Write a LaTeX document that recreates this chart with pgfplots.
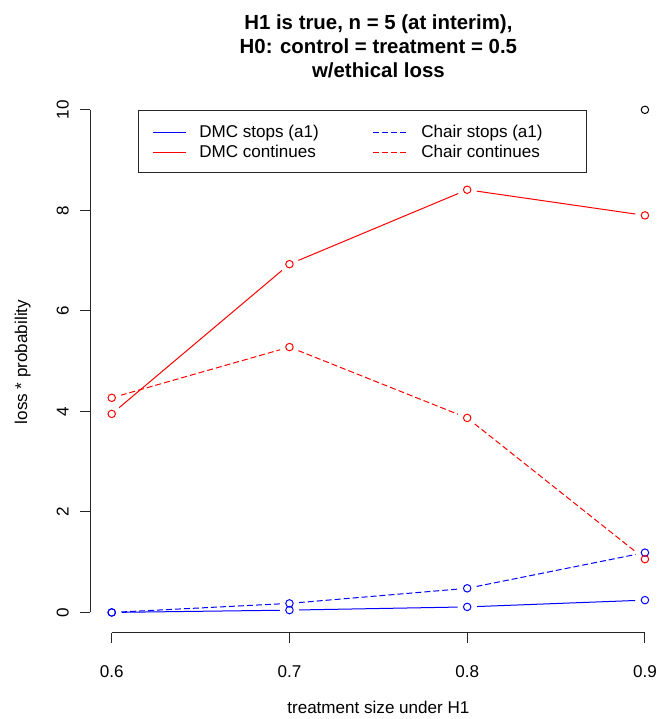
\documentclass[border=0pt]{standalone}
\usepackage{pgfplots}
\usepackage{pgfplotstable}
\pgfplotsset{compat=1.18}
\usepackage{fontspec}
\setmainfont{Liberation Sans}

% loss * probability per treatment size
\pgfplotstableread{
x    dmcstop dmccont chairstop chaircont
0.6  0.000   3.95    0.00      4.27
0.7  0.046   6.93    0.18      5.28
0.8  0.110   8.41    0.48      3.87
0.9  0.245   7.90    1.19      1.06
}\losstable

% one segment of a type="b" line, with a gap at both ends
\newcommand\seg[3]{%
  \addplot[#1, line width=0.75pt, shorten <=7pt, shorten >=7pt, forget plot,
    restrict x to domain=#2] table[x=x, y=#3] {\losstable};}
\newcommand\series[2]{%
  \seg{#1}{0.59:0.71}{#2}\seg{#1}{0.69:0.81}{#2}\seg{#1}{0.79:0.91}{#2}}
\newcommand\points[2]{%
  \addplot[only marks, mark=o, mark size=2.8pt, #1, mark options={solid, line width=0.75pt}, forget plot]
    table[x=x, y=#2] {\losstable};}

\begin{document}
\begin{tikzpicture}[font=\fontsize{12.8}{15.4}\selectfont]
\useasboundingbox (0,0) rectangle (492.75pt,-539.25pt);
\begin{axis}[
  at={(67.8pt,-474.4pt)}, anchor=south west,
  scale only axis, width=431.9pt, height=407.1pt,
  xmin=0.588, xmax=0.912, ymin=-0.4, ymax=10.4,
  separate axis lines,
  axis x line*=bottom, axis y line*=left,
  x axis line style={-, black!85, line width=0.75pt, shorten <=16pt, shorten >=16pt},
  y axis line style={-, black!85, line width=0.75pt, shorten <=15.1pt, shorten >=15.1pt},
  xtick={0.6,0.7,0.8,0.9}, xticklabels={0.6,0.7,0.8,0.9},
  ytick={0,2,4,6,8,10}, yticklabels={0,2,4,6,8,10},
  tick align=outside, major tick length=7.5pt,
  tick style={black!85, line width=0.75pt},
  xticklabel style={anchor=base}, xticklabel shift=26.5pt,
  yticklabel style={rotate=90, anchor=base}, yticklabel shift=8.9pt,
]
% lines
\series{blue}{dmcstop}
\series{red}{dmccont}
\series{blue, dash pattern=on 4.5pt off 2.25pt}{chairstop}
\series{red, dash pattern=on 4.5pt off 2.25pt}{chaircont}
% clear round each point, as with type = "b"
\pgfplotsinvokeforeach{dmcstop,dmccont,chairstop,chaircont}{
  \addplot[only marks, color=white, mark=*, mark size=7pt, mark options={draw=white, fill=white}, forget plot]
    table[x=x, y=#1] {\losstable};
}
% points
\points{blue}{dmcstop}
\points{red}{dmccont}
\points{blue}{chairstop}
\points{red}{chaircont}
\addplot[only marks, mark=o, mark size=2.8pt, black, mark options={line width=0.75pt}, forget plot] coordinates {(0.9,10)};
\end{axis}
% legend
\draw[black!85, line width=0.75pt, fill=white] (103.5pt,-82.5pt) rectangle (439.5pt,-129pt);
\draw[blue, line width=0.75pt] (114.75pt,-99pt) -- (139.5pt,-99pt);
\draw[red, line width=0.75pt] (114.75pt,-114pt) -- (139.5pt,-114pt);
\draw[blue, line width=0.75pt, dash pattern=on 4.5pt off 2.25pt] (279.75pt,-99pt) -- (304.5pt,-99pt);
\draw[red, line width=0.75pt, dash pattern=on 4.5pt off 2.25pt] (279.75pt,-114pt) -- (304.5pt,-114pt);
\node[anchor=base west, inner sep=0pt] at (149.25pt,-103.3pt) {DMC stops (a1)};
\node[anchor=base west, inner sep=0pt] at (149.25pt,-118.3pt) {DMC continues};
\node[anchor=base west, inner sep=0pt] at (315.75pt,-103.3pt) {Chair stops (a1)};
\node[anchor=base west, inner sep=0pt] at (315.75pt,-118.3pt) {Chair continues};
% titles
\begin{scope}[font=\fontsize{15.3}{18}\selectfont\bfseries]
\node[anchor=base] at (283.8pt,-22pt) {H1 is true, n = 5 (at interim),};
\node[anchor=base] at (283.8pt,-40pt) {H0: control = treatment = 0.5};
\node[anchor=base] at (283.8pt,-58pt) {w/ethical loss};
\end{scope}
\node[anchor=base] at (283.8pt,-534.75pt) {treatment size under H1};
\node[anchor=base, rotate=90] at (20.25pt,-271.5pt) {loss * probability};
\end{tikzpicture}
\end{document}
